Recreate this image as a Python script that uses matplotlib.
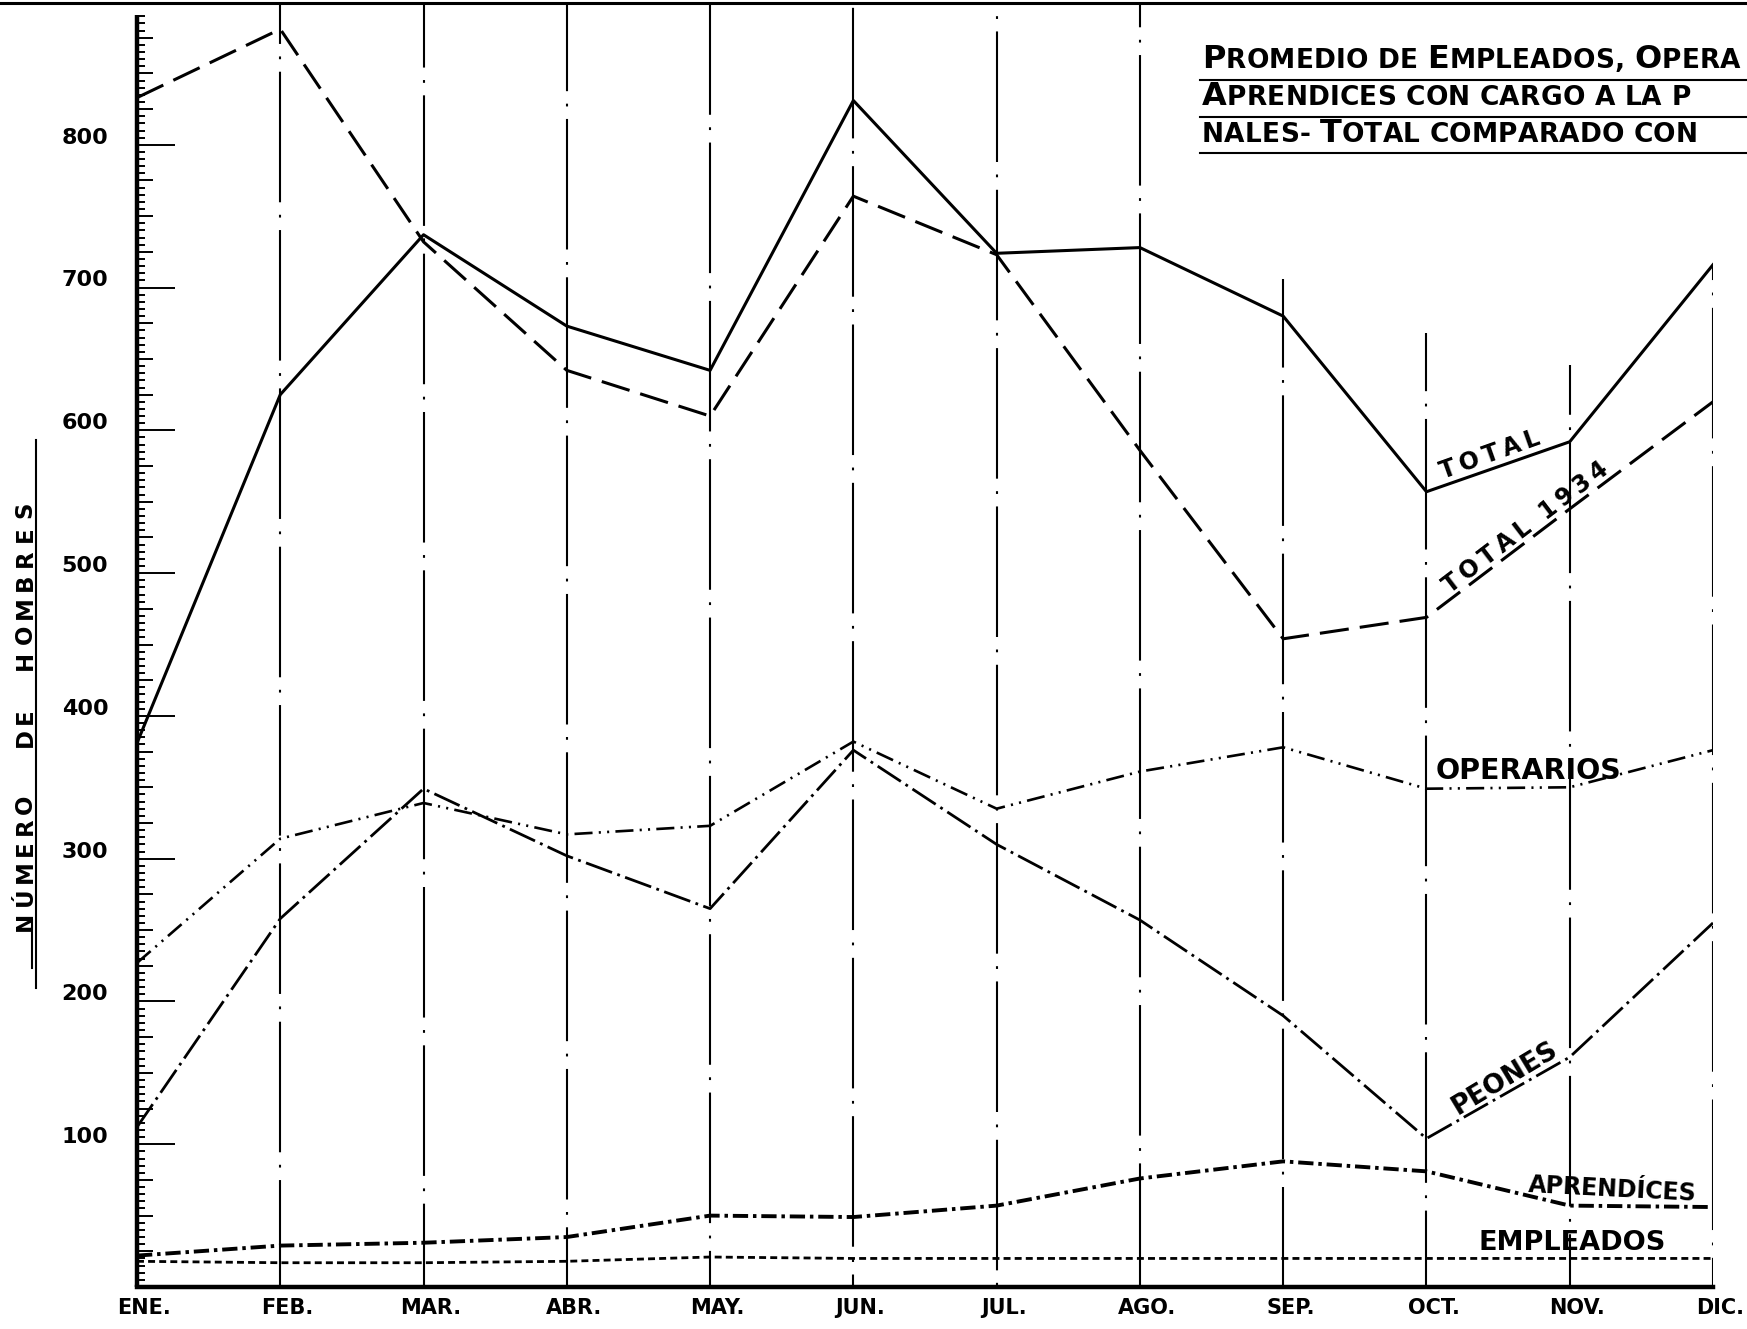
import matplotlib.pyplot as plt
from matplotlib.lines import Line2D

plt.rcParams['font.family'] = ['DejaVu Sans']
plt.rcParams['lines.scale_dashes'] = False

# datos (numero de hombres, promedio mensual)
meses = ['ENE.', 'FEB.', 'MAR.', 'ABR.', 'MAY.', 'JUN.',
         'JUL.', 'AGO.', 'SEP.', 'OCT.', 'NOV.', 'DIC.']
total = [381, 625, 737, 673, 642, 831, 724, 728, 680, 557, 592, 716]
total_1934 = [833, 881, 732, 642, 610, 764, 723, 586, 454, 469, 545, 620]
operarios = [227, 314, 339, 317, 323, 382, 335, 361, 378, 349, 350, 376]
peones = [112, 258, 349, 302, 265, 376, 310, 257, 190, 104, 161, 255]
aprendices = [22, 29, 31, 35, 50, 49, 57, 76, 88, 81, 57, 56]
empleados = [18, 17, 17, 18, 21, 20, 20, 20, 20, 20, 20, 20]
y_labels = [100, 200, 300, 400, 500, 600, 700, 800]

W, H = 1747, 1329
fig = plt.figure(figsize=(W / 100, H / 100), dpi=100)
ax = fig.add_axes([137 / W, 1 - 1287 / H, (1713 - 137) / W, (1287 - 2) / H])
ax.set_xlim(0, 11)
ax.set_ylim(0, 900)
ax.set_xticks([])
ax.set_yticks([])
for s in ['top', 'right', 'left']:
    ax.spines[s].set_visible(False)
ax.spines['bottom'].set_linewidth(3.2)


def px(x, y):
    return x / W, 1 - y / H


x = list(range(len(meses)))

# lineas verticales de los meses
tops = [900] * 8 + [706, 668, 646, total[-1]]
for i in range(1, len(meses)):
    ax.plot([i, i], [0, tops[i]], color='k', lw=1.5,
            linestyle=(i * 17, (94, 9, 2, 9)), zorder=1)

# eje vertical con su escala
ax.plot([0, 0], [0, 891], color='k', lw=3.2, solid_capstyle='butt', clip_on=False)
for v in range(5, 895, 5):
    if v % 100 == 0:
        ln = 0.262
    elif v % 25 == 0:
        ln = 0.11
    else:
        ln = 0.056
    ax.plot([0, ln], [v, v], color='k', lw=1.4, solid_capstyle='butt')
for v in y_labels:
    ax.text(-0.2, v + 5, str(v), ha='right', va='center', fontsize=16,
            fontweight='bold')
for i, m in enumerate(meses):
    ax.text(i + 0.05, -15, m, ha='center', va='center', fontsize=15,
            fontweight='bold', clip_on=False)

# series
ax.plot(x, total, color='k', lw=2.2, zorder=3)
ax.plot(x, total_1934, color='k', lw=2.2, linestyle=(0, (21, 8)), zorder=3)
ax.plot(x, operarios, color='k', lw=1.9,
        linestyle=(0, (13, 4.5, 1.5, 4.5, 1.5, 4.5)), zorder=3)
ax.plot(x, peones, color='k', lw=2.0, linestyle=(0, (20, 4, 2, 4)), zorder=3)
ax.plot(x, aprendices, color='k', lw=2.8, linestyle=(0, (11, 3.5, 2.5, 3.5)), zorder=3)
ax.plot(x, empleados, color='k', lw=2.0, linestyle=(0, (5, 3)), zorder=3)

# rotulos de las curvas
def sp(s):
    return '\u2009'.join(s)


ax.text(9.44, 583, sp('TOTAL'), rotation=19.6, rotation_mode='anchor',
        ha='center', va='center', fontsize=17, fontweight='bold')
ax.text(9.695, 532, sp('TOTAL') + '  ' + sp('1934'), rotation=37.3,
        rotation_mode='anchor', ha='center', va='center', fontsize=17,
        fontweight='bold')
ax.text(9.709, 361.5, 'OPERARIOS', ha='center', va='center', fontsize=20.5,
        fontweight='bold')
ax.text(9.548, 146, 'PEONES', rotation=31, rotation_mode='anchor',
        ha='center', va='center', fontsize=19, fontweight='bold')
ax.text(10.295, 68, 'APRENDÍCES', rotation=-3, rotation_mode='anchor',
        ha='center', va='center', fontsize=17, fontweight='bold')
ax.text(10.016, 31, 'EMPLEADOS', ha='center', va='center', fontsize=19.5,
        fontweight='bold')

# titulo del eje vertical, letra por letra
letras = [('N', 921), ('Ú', 897), ('M', 872), ('E', 848), ('R', 826), ('O', 804),
          ('D', 738), ('E', 716),
          ('H', 660), ('O', 634), ('M', 608), ('B', 582), ('R', 558), ('E', 534), ('S', 510)]
for ch, yy in letras:
    fig.text(*px(25, yy), ch, rotation=90, ha='center', va='center',
             fontsize=16.5, fontweight='bold')
fig.add_artist(Line2D([36 / W] * 2, [1 - 440 / H, 1 - 988 / H], color='k', lw=1.5))
fig.add_artist(Line2D([32 / W] * 2, [1 - 920 / H, 1 - 968 / H], color='k', lw=1.5))

# borde superior
fig.add_artist(Line2D([0, 1], [1 - 3 / H] * 2, color='k', lw=2.2))

# titulo con versalitas
renderer = fig.canvas.get_renderer()


def letrero(y, partes, x=1202, tracking=0.2):
    for texto, size in partes:
        for ch in texto:
            if ch == ' ':
                x += 0.35 * size * 100 / 72 + tracking
                continue
            t = fig.text(*px(x, y), ch, fontsize=size, va='baseline', ha='left',
                         fontweight='bold')
            x += t.get_window_extent(renderer).width + tracking


G, S = 23, 19
letrero(68, [('P', G), ('ROMEDIO DE ', S), ('E', G), ('MPLEADOS, ', S), ('O', G), ('PERA', S)])
letrero(105, [('A', G), ('PRENDICES CON CARGO A LA P', S)])
letrero(142, [('NALES- ', S), ('T', G), ('OTAL COMPARADO CON', S)])
for yy in [80, 117, 153]:
    fig.add_artist(Line2D([1200 / W, 1], [1 - yy / H] * 2, color='k', lw=1.5))

fig.savefig('out.png', dpi=100)
